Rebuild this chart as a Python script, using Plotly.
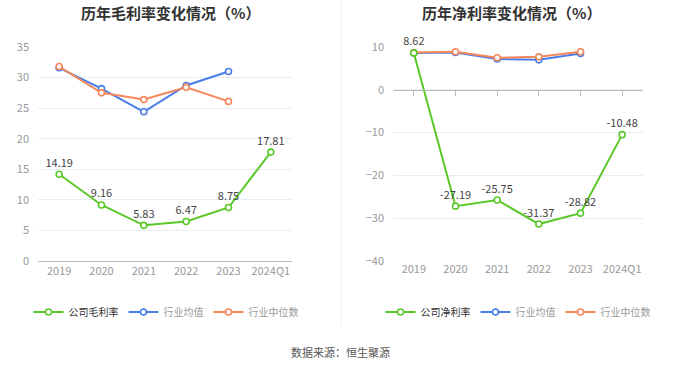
import plotly.graph_objects as go

categories = ["2019", "2020", "2021", "2022", "2023", "2024Q1"]
gross_company = [14.19, 9.16, 5.83, 6.47, 8.75, 17.81]
gross_avg = [31.6, 28.2, 24.4, 28.7, 31.0, None]
gross_median = [31.8, 27.5, 26.4, 28.4, 26.1, None]
net_company = [8.62, -27.19, -25.75, -31.37, -28.82, -10.48]
net_avg = [8.6, 8.7, 7.2, 7.0, 8.5, None]
net_median = [8.7, 8.9, 7.5, 7.7, 8.9, None]

GREEN = "#5ac828"
BLUE = "#4a7ee8"
ORANGE = "#f5875c"
FONT = "Noto Sans CJK SC"
W, H = 680, 367


def px(x):
    return x / W


def py(y):
    return 1 - y / H


fig = go.Figure()


def add(x_ax, y_ax, y, color, name, legend, rank, labels=False):
    fig.add_trace(go.Scatter(
        x=categories, y=y, xaxis=x_ax, yaxis=y_ax, name=name, legend=legend, legendrank=rank,
        mode="lines+markers+text" if labels else "lines+markers",
        text=[f"{v:.2f}" for v in y] if labels else None,
        textposition="top center",
        textfont=dict(size=11, color="#444", family=FONT),
        line=dict(color=color, width=2),
        marker=dict(symbol="circle", size=6, color="white", line=dict(color=color, width=1.6)),
        cliponaxis=False, hoverinfo="skip",
    ))


add("x", "y", gross_company, GREEN, "公司毛利率", "legend", 1, True)
add("x", "y", gross_avg, BLUE, "<span style='color:#999'>行业均值</span>", "legend", 2)
add("x", "y", gross_median, ORANGE, "<span style='color:#999'>行业中位数</span>", "legend", 3)
add("x2", "y2", net_avg, BLUE, "<span style='color:#999'>行业均值</span>", "legend2", 2)
add("x2", "y2", net_median, ORANGE, "<span style='color:#999'>行业中位数</span>", "legend2", 3)
add("x2", "y2", net_company, GREEN, "公司净利率", "legend2", 1, True)
fig.add_trace(go.Scatter(x=categories, y=[None] * 6, xaxis="x3", yaxis="y2",
                         showlegend=False, hoverinfo="skip"))

ydom = [py(261), py(47)]
axfont = dict(size=11, color="#999", family=FONT)
grid = "#e8ecf5"
legfont = dict(size=10, color="#333", family=FONT)

fig.update_layout(
    width=W, height=H,
    margin=dict(l=0, r=0, t=0, b=0, autoexpand=False),
    paper_bgcolor="white", plot_bgcolor="white",
    font=dict(family=FONT),
    showlegend=True,
    hovermode=False,
    xaxis=dict(domain=[px(38), px(292)], anchor="y", range=[-0.5, 5.5], type="category",
               showline=True, linecolor="#bbb", linewidth=1, ticks="", tickfont=axfont,
               showgrid=False, automargin=False),
    yaxis=dict(domain=ydom, anchor="x", range=[0, 35], dtick=5, showgrid=True, gridcolor=grid,
               zeroline=False, showline=False, tickfont=axfont, ticklabelstandoff=8, automargin=False),
    xaxis2=dict(domain=[px(393), px(643)], anchor="y2", range=[-0.5, 5.5], type="category",
                showline=False, ticks="", tickfont=axfont, showgrid=False, automargin=False),
    yaxis2=dict(domain=ydom, anchor="x2", range=[-40, 10], dtick=10, showgrid=True, gridcolor=grid,
                zeroline=False, showline=False, tickfont=axfont, ticklabelstandoff=8, automargin=False),
    xaxis3=dict(domain=[px(393), px(643)], overlaying="x2", anchor="free",
                position=ydom[0] + (ydom[1] - ydom[0]) * (40 / 50),
                range=[-0.5, 5.5], type="category", categoryarray=categories, categoryorder="array",
                showline=True, linecolor="#bbb",
                ticks="outside", ticklen=5, tickcolor="#bbb", showticklabels=False, showgrid=False,
                automargin=False),
    legend=dict(orientation="h", x=px(166), xanchor="center", y=py(312), yanchor="middle",
                font=legfont, traceorder="normal"),
    legend2=dict(orientation="h", x=px(518), xanchor="center", y=py(312), yanchor="middle",
                 font=legfont, traceorder="normal"),
    annotations=[
        dict(text="<b>历年毛利率变化情况（%）</b>", x=px(170), y=py(12), xref="paper", yref="paper",
             showarrow=False, font=dict(size=15, color="#333", family=FONT), xanchor="center", yanchor="middle"),
        dict(text="<b>历年净利率变化情况（%）</b>", x=px(511), y=py(12), xref="paper", yref="paper",
             showarrow=False, font=dict(size=15, color="#333", family=FONT), xanchor="center", yanchor="middle"),
        dict(text="数据来源：恒生聚源", x=px(340), y=py(352), xref="paper", yref="paper",
             showarrow=False, font=dict(size=11, color="#555", family=FONT), xanchor="center", yanchor="middle"),
    ],
    shapes=[dict(type="line", xref="paper", yref="paper", x0=px(341), x1=px(341),
                 y0=py(325), y1=1, line=dict(color="#eeeeee", width=1))],
)

fig.write_html("out.html", config={"displayModeBar": False},
               post_script="document.body.style.margin='0';")
